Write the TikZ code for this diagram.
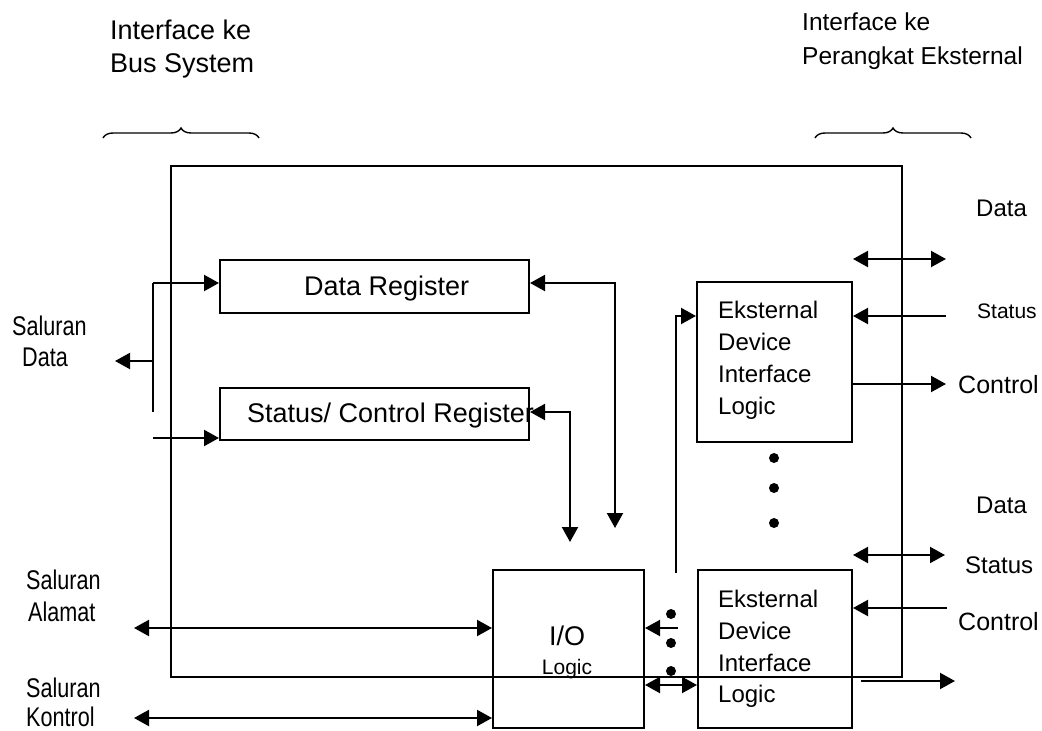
\documentclass[tikz,border=0pt]{standalone}
\usepackage{fontspec}
\setmainfont{Liberation Sans}
\newfontfamily\narrowfont[FakeStretch=0.8]{Liberation Sans}
\usetikzlibrary{arrows.meta,decorations.pathreplacing}
\tikzset{
  box/.style={draw, line width=2pt, inner sep=0pt},
  conn/.style={line width=2.1pt},
  tip/.tip={Triangle[length=15pt,width=16pt]},
  arr/.style={conn,-tip},
  arrs/.style={conn,tip-tip},
  dot/.style={circle, fill=black, inner sep=0pt, minimum size=10pt},
  lbl/.style={inner sep=0pt, font=\fontsize{27}{31}\selectfont},
  lblr/.style={inner sep=0pt, font=\fontsize{24.5}{29}\selectfont},
  lblm/.style={inner sep=0pt, font=\fontsize{24}{28}\selectfont},
  lblc/.style={inner sep=0pt, font=\fontsize{25}{29}\selectfont},
  lbls/.style={inner sep=0pt, font=\fontsize{21}{25}\selectfont},
  lbln/.style={inner sep=0pt, font=\narrowfont\fontsize{27}{31}\selectfont},
  brc/.style={line width=1.4pt, decorate, decoration={brace, amplitude=10pt}}
}
\begin{document}
\begin{tikzpicture}[x=1pt,y=-1pt]
\fill[white] (0,0) rectangle (1042,731);
\useasboundingbox (0,0) rectangle (1042,731);

% top labels and braces
\node[lbl, anchor=base west] (ib1) at (110,39) {Interface ke};
\node[lbl, anchor=base west] (ib2) at (110,72) {Bus System};
\node[lblr, anchor=base west] (ie1) at (802,30) {Interface ke};
\node[lblr, anchor=base west] (ie2) at (802,64) {Perangkat Eksternal};
\coordinate (bl1) at (103,138);
\coordinate (bl2) at (259,138);
\coordinate (br1) at (815,138);
\coordinate (br2) at (971,138);
\draw[brc] (bl1) -- (bl2);
\draw[brc] (br1) -- (br2);

% outer frame
\node[box, minimum width=731pt, minimum height=511pt] (outer) at (536.5,421.5) {};

% registers
\node[box, minimum width=309pt, minimum height=53pt] (dr) at (374.5,286.5) {};
\node[lbl, anchor=base west] (drt) at (304,295) {Data Register};
\node[box, minimum width=309pt, minimum height=52pt] (scr) at (374.5,414) {};
\node[lbl, anchor=base west] (scrt) at (247,422) {Status/ Control Register};

% external device boxes
\node[box, minimum width=155pt, minimum height=160pt] (ext1) at (774.5,362) {};
\node[lblm, anchor=base west] (e1a) at (718,318) {Eksternal};
\node[lblm, anchor=base west] (e1b) at (718,350) {Device};
\node[lblm, anchor=base west] (e1c) at (718,382) {Interface};
\node[lblm, anchor=base west] (e1d) at (718,414) {Logic};

\node[box, minimum width=154pt, minimum height=158pt] (ext2) at (775,649) {};
\node[lblm, anchor=base west] (e2a) at (718,607) {Eksternal};
\node[lblm, anchor=base west] (e2b) at (718,639) {Device};
\node[lblm, anchor=base west] (e2c) at (718,671) {Interface};
\node[lblm, anchor=base west] (e2d) at (718,702) {Logic};

% I/O logic
\node[box, minimum width=151pt, minimum height=158pt] (io) at (568.5,649) {};
\node[lbl, anchor=base] (iot) at (567,645) {I/O};
\node[lbls, anchor=base] (iol) at (567,674) {Logic};

% left labels
\node[lbln, anchor=base west] (sd1) at (12,335) {Saluran};
\node[lbln, anchor=base west] (sd2) at (22,366) {Data};
\node[lbln, anchor=base west] (sa1) at (26,589) {Saluran};
\node[lbln, anchor=base west] (sa2) at (28,621) {Alamat};
\node[lbln, anchor=base west] (sk1) at (26,697) {Saluran};
\node[lbln, anchor=base west] (sk2) at (26,726) {Kontrol};

% right labels
\node[lblm, anchor=base west] (rd1) at (976,216) {Data};
\node[lbls, anchor=base west] (rs1) at (977,318) {Status};
\node[lblc, anchor=base west] (rc1) at (958,393) {Control};
\node[lblm, anchor=base west] (rd2) at (976,513) {Data};
\node[lblm, anchor=base west] (rs2) at (965,573) {Status};
\node[lblc, anchor=base west] (rc2) at (958,630) {Control};

% left data bus
\coordinate (bt) at (153,283);
\coordinate (bb) at (153,412);
\coordinate (bm) at (153,361);
\coordinate (sdl) at (115,361);
\coordinate (sl) at (153,438);
\draw[conn] (bb) -- (bt);
\draw[arr] (bt) -- (dr.west |- bt);
\draw[arr] (bm) -- (sdl);
\draw[arr] (sl) -- (scr.west |- sl);

% register to I/O connections
\coordinate (drd) at (615,528);
\coordinate (drc) at (615,283);
\draw[arrs] (drd) -- (drc) -- (dr.east |- drc);
\coordinate (scd) at (570,542);
\coordinate (scc) at (570,412);
\draw[arrs] (scd) -- (scc) -- (scr.east |- scc);

% I/O to external device 1
\coordinate (fb) at (676,573);
\coordinate (fc) at (676,316);
\draw[arr] (fb) -- (fc) -- (ext1.west |- fc);

% external 1 side lines
\coordinate (d1a) at (853,259);
\coordinate (d1b) at (946,259);
\draw[arrs] (d1a) -- (d1b);
\coordinate (s1) at (946,316);
\draw[arr] (s1) -- (ext1.east |- s1);
\coordinate (c1) at (946,384);
\draw[arr] (ext1.east |- c1) -- (c1);

% dots between external devices
\node[dot] (v1) at (774,458) {};
\node[dot] (v2) at (774,488) {};
\node[dot] (v3) at (774,523) {};

% external 2 side lines
\coordinate (d2a) at (853,555);
\coordinate (d2b) at (945,555);
\draw[arrs] (d2a) -- (d2b);
\coordinate (s2) at (947,608);
\draw[arr] (s2) -- (ext2.east |- s2);
\coordinate (c2a) at (861,681);
\coordinate (c2b) at (955,681);
\draw[arr] (c2a) -- (c2b);

% address and control lines
\coordinate (al) at (134,628);
\draw[arrs] (al) -- (io.west |- al);
\coordinate (kl) at (134,718);
\draw[arrs] (kl) -- (io.west |- kl);

% between I/O and external 2
\coordinate (ia) at (678,628);
\draw[arr] (ia) -- (io.east |- ia);
\node[dot] (w1) at (671,614) {};
\node[dot] (w2) at (671,643) {};
\node[dot] (w3) at (671,671) {};
\coordinate (ie) at (644,685);
\draw[arrs] (io.east |- ie) -- (ext2.west |- ie);
\end{tikzpicture}
\end{document}
